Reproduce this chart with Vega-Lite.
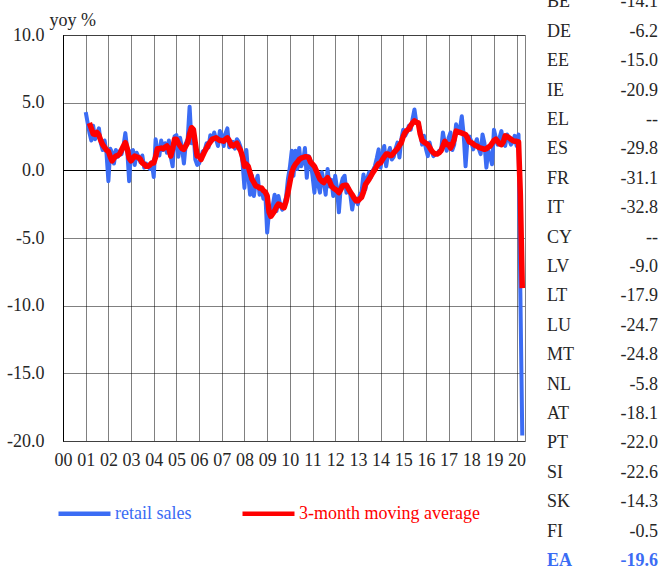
{
"$schema": "https://vega.github.io/schema/vega-lite/v6.json",
"width": 462, "height": 406,
"autosize": "none",
"padding": {"left": 63, "top": 35, "right": 135, "bottom": 129},
"background": "white",
"config": {"font": "Liberation Serif",
 "axis": {"labelFont": "Liberation Serif", "titleFont": "Liberation Serif"},
 "legend": {"labelFont": "Liberation Serif", "titleFont": "Liberation Serif"},
 "text": {"font": "Liberation Serif"},
 "view": {"stroke": "#000", "strokeDash": [1, 1], "strokeWidth": 1}},
"resolve": {"scale": {"x": "independent", "y": "independent"}},
"layer": [
{
"data": {"values": [
{"d":"2001-01-01","rs":4.3,"ma":null},{"d":"2001-02-01","rs":3.5,"ma":null},{"d":"2001-03-01","rs":2.8,"ma":3.5},{"d":"2001-04-01","rs":2.2,"ma":3.1},{"d":"2001-05-01","rs":3.3,"ma":2.7},{"d":"2001-06-01","rs":2.3,"ma":2.65},{"d":"2001-07-01","rs":2.6,"ma":2.8},{"d":"2001-08-01","rs":3.1,"ma":2.6},{"d":"2001-09-01","rs":2.0,"ma":2.2},{"d":"2001-10-01","rs":1.5,"ma":1.9},{"d":"2001-11-01","rs":2.2,"ma":1.7},{"d":"2001-12-01","rs":1.3,"ma":1.5},
{"d":"2002-01-01","rs":-0.8,"ma":1.4},{"d":"2002-02-01","rs":1.6,"ma":1.0},{"d":"2002-03-01","rs":1.3,"ma":0.7},{"d":"2002-04-01","rs":0.5,"ma":0.9},{"d":"2002-05-01","rs":1.5,"ma":1.05},{"d":"2002-06-01","rs":1.0,"ma":1.1},{"d":"2002-07-01","rs":1.4,"ma":1.2},{"d":"2002-08-01","rs":1.2,"ma":1.5},{"d":"2002-09-01","rs":1.8,"ma":1.8},{"d":"2002-10-01","rs":2.75,"ma":2.05},{"d":"2002-11-01","rs":1.5,"ma":1.6},{"d":"2002-12-01","rs":-0.8,"ma":0.9},
{"d":"2003-01-01","rs":1.4,"ma":0.7},{"d":"2003-02-01","rs":1.5,"ma":0.9},{"d":"2003-03-01","rs":0.4,"ma":1.05},{"d":"2003-04-01","rs":1.3,"ma":1.0},{"d":"2003-05-01","rs":1.0,"ma":0.95},{"d":"2003-06-01","rs":0.6,"ma":0.8},{"d":"2003-07-01","rs":1.1,"ma":0.55},{"d":"2003-08-01","rs":0.2,"ma":0.45},{"d":"2003-09-01","rs":0.5,"ma":0.3},{"d":"2003-10-01","rs":0.3,"ma":0.3},{"d":"2003-11-01","rs":0.1,"ma":0.4},{"d":"2003-12-01","rs":0.6,"ma":0.55},
{"d":"2004-01-01","rs":-0.5,"ma":0.55},{"d":"2004-02-01","rs":2.3,"ma":1.0},{"d":"2004-03-01","rs":1.4,"ma":1.6},{"d":"2004-04-01","rs":1.1,"ma":1.6},{"d":"2004-05-01","rs":2.2,"ma":1.65},{"d":"2004-06-01","rs":1.5,"ma":1.6},{"d":"2004-07-01","rs":2.0,"ma":1.7},{"d":"2004-08-01","rs":1.3,"ma":1.8},{"d":"2004-09-01","rs":2.2,"ma":1.6},{"d":"2004-10-01","rs":1.0,"ma":1.05},{"d":"2004-11-01","rs":0.3,"ma":1.6},{"d":"2004-12-01","rs":2.5,"ma":2.3},
{"d":"2005-01-01","rs":2.6,"ma":2.3},{"d":"2005-02-01","rs":1.0,"ma":2.0},{"d":"2005-03-01","rs":2.4,"ma":1.8},{"d":"2005-04-01","rs":1.6,"ma":1.6},{"d":"2005-05-01","rs":0.5,"ma":1.55},{"d":"2005-06-01","rs":2.0,"ma":1.8},{"d":"2005-07-01","rs":2.3,"ma":2.05},{"d":"2005-08-01","rs":4.7,"ma":2.7},{"d":"2005-09-01","rs":2.0,"ma":3.15},{"d":"2005-10-01","rs":3.0,"ma":3.0},{"d":"2005-11-01","rs":0.8,"ma":2.0},{"d":"2005-12-01","rs":0.4,"ma":1.05},
{"d":"2006-01-01","rs":0.5,"ma":1.05},{"d":"2006-02-01","rs":1.0,"ma":0.8},{"d":"2006-03-01","rs":1.4,"ma":1.1},{"d":"2006-04-01","rs":1.5,"ma":1.4},{"d":"2006-05-01","rs":2.0,"ma":1.65},{"d":"2006-06-01","rs":1.7,"ma":1.9},{"d":"2006-07-01","rs":2.6,"ma":2.1},{"d":"2006-08-01","rs":2.2,"ma":2.3},{"d":"2006-09-01","rs":2.8,"ma":2.35},{"d":"2006-10-01","rs":2.3,"ma":2.4},{"d":"2006-11-01","rs":1.8,"ma":2.3},{"d":"2006-12-01","rs":2.9,"ma":2.2},
{"d":"2007-01-01","rs":2.6,"ma":2.2},{"d":"2007-02-01","rs":1.8,"ma":2.15},{"d":"2007-03-01","rs":2.7,"ma":2.3},{"d":"2007-04-01","rs":3.1,"ma":2.4},{"d":"2007-05-01","rs":1.7,"ma":2.2},{"d":"2007-06-01","rs":1.9,"ma":1.85},{"d":"2007-07-01","rs":2.1,"ma":1.8},{"d":"2007-08-01","rs":1.6,"ma":1.9},{"d":"2007-09-01","rs":2.3,"ma":2.0},{"d":"2007-10-01","rs":2.1,"ma":1.7},{"d":"2007-11-01","rs":1.7,"ma":1.45},{"d":"2007-12-01","rs":0.6,"ma":1.0},
{"d":"2008-01-01","rs":-1.3,"ma":0.3},{"d":"2008-02-01","rs":1.5,"ma":0.45},{"d":"2008-03-01","rs":-0.3,"ma":0.3},{"d":"2008-04-01","rs":-1.8,"ma":-0.2},{"d":"2008-05-01","rs":-0.4,"ma":-0.65},{"d":"2008-06-01","rs":-1.9,"ma":-0.9},{"d":"2008-07-01","rs":-0.9,"ma":-1.15},{"d":"2008-08-01","rs":-0.4,"ma":-1.2},{"d":"2008-09-01","rs":-1.8,"ma":-1.3},{"d":"2008-10-01","rs":-1.3,"ma":-1.3},{"d":"2008-11-01","rs":-2.1,"ma":-1.5},{"d":"2008-12-01","rs":-1.6,"ma":-1.6},
{"d":"2009-01-01","rs":-4.6,"ma":-1.9},{"d":"2009-02-01","rs":-3.0,"ma":-3.1},{"d":"2009-03-01","rs":-3.2,"ma":-3.4},{"d":"2009-04-01","rs":-2.6,"ma":-3.2},{"d":"2009-05-01","rs":-1.8,"ma":-3.0},{"d":"2009-06-01","rs":-3.0,"ma":-2.7},{"d":"2009-07-01","rs":-1.9,"ma":-2.5},{"d":"2009-08-01","rs":-2.6,"ma":-2.55},{"d":"2009-09-01","rs":-2.9,"ma":-2.7},{"d":"2009-10-01","rs":-2.5,"ma":-2.75},{"d":"2009-11-01","rs":-2.0,"ma":-2.3},{"d":"2009-12-01","rs":-0.65,"ma":-1.65},
{"d":"2010-01-01","rs":0.2,"ma":-0.9},{"d":"2010-02-01","rs":1.45,"ma":-0.15},{"d":"2010-03-01","rs":-0.4,"ma":0.2},{"d":"2010-04-01","rs":1.45,"ma":0.45},{"d":"2010-05-01","rs":0.1,"ma":0.6},{"d":"2010-06-01","rs":1.65,"ma":0.8},{"d":"2010-07-01","rs":0.3,"ma":0.9},{"d":"2010-08-01","rs":0.6,"ma":0.95},{"d":"2010-09-01","rs":1.65,"ma":1.0},{"d":"2010-10-01","rs":-0.55,"ma":1.0},{"d":"2010-11-01","rs":1.05,"ma":0.95},{"d":"2010-12-01","rs":0.7,"ma":0.6},
{"d":"2011-01-01","rs":-0.4,"ma":0.45},{"d":"2011-02-01","rs":-1.65,"ma":0.3},{"d":"2011-03-01","rs":-0.05,"ma":0.0},{"d":"2011-04-01","rs":-1.0,"ma":-0.35},{"d":"2011-05-01","rs":-1.65,"ma":-0.65},{"d":"2011-06-01","rs":-0.15,"ma":-0.8},{"d":"2011-07-01","rs":-0.8,"ma":-0.9},{"d":"2011-08-01","rs":-1.8,"ma":-0.7},{"d":"2011-09-01","rs":0.1,"ma":-0.55},{"d":"2011-10-01","rs":-1.2,"ma":-0.8},{"d":"2011-11-01","rs":-0.7,"ma":-1.15},{"d":"2011-12-01","rs":-1.9,"ma":-1.3},
{"d":"2012-01-01","rs":-0.4,"ma":-1.4},{"d":"2012-02-01","rs":-1.4,"ma":-1.5},{"d":"2012-03-01","rs":-3.1,"ma":-1.65},{"d":"2012-04-01","rs":-1.15,"ma":-1.4},{"d":"2012-05-01","rs":-0.6,"ma":-1.15},{"d":"2012-06-01","rs":-0.4,"ma":-1.1},{"d":"2012-07-01","rs":-1.65,"ma":-1.1},{"d":"2012-08-01","rs":-1.3,"ma":-1.35},{"d":"2012-09-01","rs":-1.8,"ma":-1.6},{"d":"2012-10-01","rs":-2.9,"ma":-1.8},{"d":"2012-11-01","rs":-2.0,"ma":-2.05},{"d":"2012-12-01","rs":-2.15,"ma":-2.25},
{"d":"2013-01-01","rs":-2.5,"ma":-2.25},{"d":"2013-02-01","rs":-1.8,"ma":-2.1},{"d":"2013-03-01","rs":-1.6,"ma":-2.0},{"d":"2013-04-01","rs":-0.3,"ma":-1.6},{"d":"2013-05-01","rs":-1.4,"ma":-1.05},{"d":"2013-06-01","rs":-0.6,"ma":-0.85},{"d":"2013-07-01","rs":-0.15,"ma":-0.65},{"d":"2013-08-01","rs":-0.5,"ma":-0.4},{"d":"2013-09-01","rs":0.0,"ma":-0.15},{"d":"2013-10-01","rs":0.3,"ma":0.05},{"d":"2013-11-01","rs":0.9,"ma":0.3},{"d":"2013-12-01","rs":1.55,"ma":0.5},
{"d":"2014-01-01","rs":0.2,"ma":0.55},{"d":"2014-02-01","rs":1.2,"ma":0.8},{"d":"2014-03-01","rs":1.8,"ma":1.0},{"d":"2014-04-01","rs":0.3,"ma":1.2},{"d":"2014-05-01","rs":1.2,"ma":1.2},{"d":"2014-06-01","rs":1.65,"ma":1.1},{"d":"2014-07-01","rs":0.8,"ma":1.1},{"d":"2014-08-01","rs":1.0,"ma":1.3},{"d":"2014-09-01","rs":1.6,"ma":1.45},{"d":"2014-10-01","rs":2.05,"ma":1.6},{"d":"2014-11-01","rs":0.95,"ma":1.85},{"d":"2014-12-01","rs":2.3,"ma":2.05},
{"d":"2015-01-01","rs":3.0,"ma":2.5},{"d":"2015-02-01","rs":2.55,"ma":2.8},{"d":"2015-03-01","rs":2.8,"ma":2.95},{"d":"2015-04-01","rs":3.3,"ma":3.05},{"d":"2015-05-01","rs":3.0,"ma":3.3},{"d":"2015-06-01","rs":3.8,"ma":3.5},{"d":"2015-07-01","rs":4.5,"ma":3.65},{"d":"2015-08-01","rs":3.5,"ma":3.55},{"d":"2015-09-01","rs":3.5,"ma":3.5},{"d":"2015-10-01","rs":3.0,"ma":2.7},{"d":"2015-11-01","rs":1.9,"ma":2.2},{"d":"2015-12-01","rs":2.55,"ma":2.1},
{"d":"2016-01-01","rs":1.6,"ma":2.0},{"d":"2016-02-01","rs":1.05,"ma":1.9},{"d":"2016-03-01","rs":2.05,"ma":1.7},{"d":"2016-04-01","rs":1.4,"ma":1.45},{"d":"2016-05-01","rs":1.05,"ma":1.3},{"d":"2016-06-01","rs":1.2,"ma":1.2},{"d":"2016-07-01","rs":1.2,"ma":1.2},{"d":"2016-08-01","rs":1.45,"ma":1.3},{"d":"2016-09-01","rs":1.4,"ma":1.45},{"d":"2016-10-01","rs":2.8,"ma":1.8},{"d":"2016-11-01","rs":2.0,"ma":2.15},{"d":"2016-12-01","rs":1.45,"ma":1.9},
{"d":"2017-01-01","rs":2.4,"ma":1.9},{"d":"2017-02-01","rs":2.8,"ma":1.65},{"d":"2017-03-01","rs":1.5,"ma":1.9},{"d":"2017-04-01","rs":1.9,"ma":2.3},{"d":"2017-05-01","rs":3.4,"ma":2.9},{"d":"2017-06-01","rs":2.9,"ma":2.85},{"d":"2017-07-01","rs":3.0,"ma":2.8},{"d":"2017-08-01","rs":4.0,"ma":2.75},{"d":"2017-09-01","rs":2.6,"ma":2.7},{"d":"2017-10-01","rs":0.3,"ma":2.65},{"d":"2017-11-01","rs":2.3,"ma":2.4},{"d":"2017-12-01","rs":2.5,"ma":2.1},
{"d":"2018-01-01","rs":2.15,"ma":2.05},{"d":"2018-02-01","rs":1.55,"ma":1.95},{"d":"2018-03-01","rs":1.9,"ma":1.85},{"d":"2018-04-01","rs":2.3,"ma":1.8},{"d":"2018-05-01","rs":1.6,"ma":1.7},{"d":"2018-06-01","rs":1.2,"ma":1.65},{"d":"2018-07-01","rs":2.65,"ma":1.6},{"d":"2018-08-01","rs":2.0,"ma":1.55},{"d":"2018-09-01","rs":0.2,"ma":1.6},{"d":"2018-10-01","rs":1.45,"ma":1.7},{"d":"2018-11-01","rs":1.0,"ma":1.8},{"d":"2018-12-01","rs":0.45,"ma":2.0},
{"d":"2019-01-01","rs":3.0,"ma":2.2},{"d":"2019-02-01","rs":2.4,"ma":2.3},{"d":"2019-03-01","rs":1.9,"ma":2.15},{"d":"2019-04-01","rs":2.4,"ma":1.95},{"d":"2019-05-01","rs":2.9,"ma":1.9},{"d":"2019-06-01","rs":2.0,"ma":2.1},{"d":"2019-07-01","rs":1.8,"ma":2.55},{"d":"2019-08-01","rs":2.65,"ma":2.5},{"d":"2019-09-01","rs":2.3,"ma":2.4},{"d":"2019-10-01","rs":1.9,"ma":2.3},{"d":"2019-11-01","rs":2.1,"ma":2.2},{"d":"2019-12-01","rs":2.55,"ma":2.15},
{"d":"2020-01-01","rs":1.8,"ma":2.15},{"d":"2020-02-01","rs":2.65,"ma":2.1},{"d":"2020-03-01","rs":-9.0,"ma":-1.8},{"d":"2020-04-01","rs":-19.6,"ma":-8.7}
]},
"layer": [
{
"mark": {"type": "line", "strokeWidth": 4, "strokeJoin": "round"},
"encoding": {
"x": {"field": "d", "type": "temporal",
 "scale": {"type": "utc", "domain": [{"year": 2000, "month": 1, "date": 1, "utc": true}, {"year": 2020, "month": 5, "date": 15, "utc": true}]},
 "axis": {"title": null, "format": "%y", "tickCount": {"interval": "year", "step": 1}, "labelFont": "Liberation Serif", "labelFontSize": 18, "labelColor": "#262626", "labelPadding": 10, "labelFlush": false, "labelOverlap": false, "ticks": false, "domain": false, "grid": true, "gridColor": "#000", "gridDash": [1, 1], "gridWidth": 1, "gridOpacity": 1}},
"y": {"field": "rs", "type": "quantitative", "title": "yoy %",
 "scale": {"domain": [-20, 10], "nice": false, "zero": false},
 "axis": {"titleAngle": 0, "titleAlign": "left", "titleBaseline": "alphabetic", "titleX": -14, "titleY": -10, "titleFont": "Liberation Serif", "titleFontSize": 18, "titleFontWeight": "normal", "titleColor": "#262626",
  "values": [-20, -15, -10, -5, 0, 5, 10], "labelExpr": "replace(format(datum.value, '.1f'), '\u2212', '-')", "labelFont": "Liberation Serif", "labelFontSize": 18, "labelColor": "#262626", "labelPadding": 19, "ticks": false, "domain": true, "domainColor": "#000", "domainWidth": 1,
  "grid": true, "gridColor": "#000", "gridWidth": 1, "gridOpacity": 1, "gridDash": {"condition": {"test": "datum.value === 0", "value": []}, "value": [1, 1]}}},
"color": {"datum": "retail sales", "type": "nominal",
 "scale": {"domain": ["retail sales", "3-month moving average"], "range": ["#3b6cf4", "#ff0000"]},
 "legend": {"orient": "none", "legendX": -7, "legendY": 450, "direction": "horizontal", "title": null, "symbolType": "stroke", "symbolSize": 2704, "symbolStrokeWidth": 4.5, "labelFont": "Liberation Serif", "labelFontSize": 18, "labelOffset": 2, "columnPadding": 41, "labelLimit": 400,
  "labelColor": {"expr": "datum.label == 'retail sales' ? '#3b6cf4' : '#ff0000'"}}}
}
},
{
"mark": {"type": "line", "strokeWidth": 5.5, "strokeJoin": "round"},
"encoding": {
"x": {"field": "d", "type": "temporal"},
"y": {"field": "ma", "type": "quantitative", "title": "yoy %"},
"color": {"datum": "3-month moving average", "type": "nominal"}
}
}
]
},
{
"data": {"values": [
{"code": "BE", "val": "-14.1"}, {"code": "DE", "val": "-6.2"}, {"code": "EE", "val": "-15.0"}, {"code": "IE", "val": "-20.9"}, {"code": "EL", "val": "--"},
{"code": "ES", "val": "-29.8"}, {"code": "FR", "val": "-31.1"}, {"code": "IT", "val": "-32.8"}, {"code": "CY", "val": "--"}, {"code": "LV", "val": "-9.0"},
{"code": "LT", "val": "-17.9"}, {"code": "LU", "val": "-24.7"}, {"code": "MT", "val": "-24.8"}, {"code": "NL", "val": "-5.8"}, {"code": "AT", "val": "-18.1"},
{"code": "PT", "val": "-22.0"}, {"code": "SI", "val": "-22.6"}, {"code": "SK", "val": "-14.3"}, {"code": "FI", "val": "-0.5"}, {"code": "EA", "val": "-19.6"}
]},
"layer": [
{
"mark": {"type": "text", "align": "left", "baseline": "middle", "fontSize": 18, "font": "Liberation Serif", "fontWeight": {"expr": "datum.code == 'EA' ? 'bold' : 'normal'"}},
"encoding": {
"x": {"datum": "code", "type": "nominal", "scale": {"type": "point", "domain": ["code", "value"], "range": [484, 595], "padding": 0}, "axis": null},
"y": {"field": "code", "type": "nominal", "scale": {"type": "point", "domain": ["BE","DE","EE","IE","EL","ES","FR","IT","CY","LV","LT","LU","MT","NL","AT","PT","SI","SK","FI","EA"], "range": [-32.6, 526], "padding": 0}, "axis": null},
"text": {"field": "code"},
"color": {"condition": {"test": "datum.code == 'EA'", "value": "#3b6cf4"}, "value": "#262626"}
}
},
{
"mark": {"type": "text", "align": "right", "baseline": "middle", "fontSize": 18, "font": "Liberation Serif", "fontWeight": {"expr": "datum.code == 'EA' ? 'bold' : 'normal'"}},
"encoding": {
"x": {"datum": "value", "type": "nominal"},
"y": {"field": "code", "type": "nominal"},
"text": {"field": "val"},
"color": {"condition": {"test": "datum.code == 'EA'", "value": "#3b6cf4"}, "value": "#262626"}
}
}
]
}
]
}
